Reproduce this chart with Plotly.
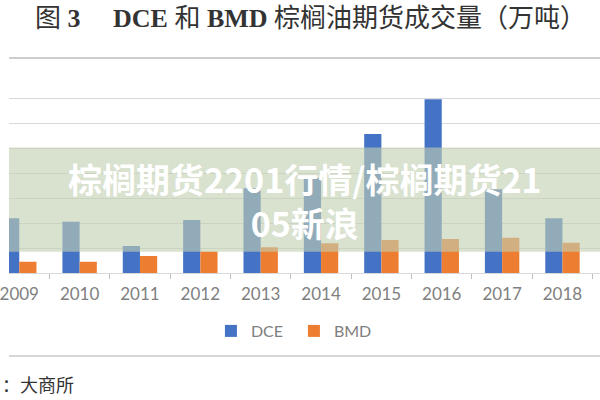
import plotly.graph_objects as go

# Data (万吨)
years = ["2009", "2010", "2011", "2012", "2013", "2014", "2015", "2016", "2017", "2018"]
dce = [21900, 20500, 10800, 21200, 33900, 38000, 55600, 69500, 33500, 21900]
bmd = [4500, 4500, 6800, 8600, 10300, 11900, 13200, 13600, 14100, 12100]

title_text = "图 <b>3</b>&nbsp;&nbsp;&nbsp;&nbsp; <b>DCE</b> 和 <b>BMD</b> 棕榈油期货成交量（万吨）"
source_text = "：大商所"
wm_line1 = "棕榈期货2201行情/棕榈期货21"
wm_line2 = "05新浪"

# Layout helpers (pixel geometry of the 600x400 canvas)
W, H = 600, 400
PLOT_TOP, PLOT_BOTTOM = 73, 273
PH = PLOT_BOTTOM - PLOT_TOP


def py(pix):
    return (PLOT_BOTTOM - pix) / PH


fig = go.Figure()
fig.add_trace(go.Bar(x=years, y=dce, name="DCE", marker=dict(color="#4472C4", line=dict(width=0))))
fig.add_trace(go.Bar(x=years, y=bmd, name="BMD", marker=dict(color="#ED7D31", line=dict(width=0))))

label_font = dict(family="Lato, Noto Sans CJK SC", size=17, color="#808080")

fig.update_layout(
    width=W, height=H, autosize=False,
    margin=dict(l=0, r=0, t=PLOT_TOP, b=H - PLOT_BOTTOM, pad=0),
    paper_bgcolor="white", plot_bgcolor="white",
    barmode="group", bargap=0.43, bargroupgap=0,
    showlegend=True,
    legend=dict(orientation="h", x=205 / W, xanchor="left", y=py(331), yanchor="middle",
                font=dict(family="Lato, Noto Sans CJK SC", size=16, color="#808080"),
                bgcolor="rgba(0,0,0,0)", itemwidth=30, entrywidth=38, entrywidthmode="pixels"),
    xaxis=dict(type="category", range=[-0.170, 9.622], showgrid=False,
               showline=True, linecolor="#D9D9D9", linewidth=1,
               ticks="outside", tickson="boundaries", ticklen=5, tickcolor="#BFBFBF",
               tickfont=label_font, ticklabelstandoff=6, fixedrange=True),
    yaxis=dict(range=[0, 80000], dtick=10000, showgrid=True, gridcolor="#D9D9D9", gridwidth=1,
               zeroline=False, showticklabels=False, showline=False, fixedrange=True),
    font=dict(family="Lato, Noto Sans CJK SC"),
)

shapes = [
    # separator under the title
    dict(type="line", xref="paper", yref="paper", x0=0, x1=1, y0=py(58), y1=py(58),
         line=dict(color="#BDBDBD", width=1.5), layer="above"),
    # separator above the source line
    dict(type="line", xref="paper", yref="paper", x0=0, x1=1, y0=py(356), y1=py(356),
         line=dict(color="#C8C8C8", width=1.5), layer="above"),
    # translucent watermark band
    dict(type="rect", xref="paper", yref="paper", x0=0, x1=1, y0=py(251.7), y1=py(147.5),
         fillcolor="rgba(194,207,178,0.62)", line=dict(width=0), layer="above"),
]
fig.update_layout(shapes=shapes)

annotations = [
    dict(text=title_text, xref="paper", yref="paper", x=306 / W, y=py(18), xanchor="center",
         yanchor="middle", showarrow=False,
         font=dict(family="Liberation Serif, Noto Sans CJK SC", size=26, color="#333333")),
    dict(text=source_text, xref="paper", yref="paper", x=-9 / W, y=py(384), xanchor="left",
         yanchor="middle", showarrow=False,
         font=dict(family="Noto Sans CJK SC", size=18, color="#333333")),
    dict(text=wm_line1 + "<br>" + wm_line2, xref="paper", yref="paper", x=0.5, y=py(200),
         xanchor="center", yanchor="middle", align="center", showarrow=False,
         font=dict(family="Noto Sans CJK SC", size=34, color="white", weight="bold")),
]
fig.update_layout(annotations=annotations)

fig.write_html("out.html", config={"displayModeBar": False})
